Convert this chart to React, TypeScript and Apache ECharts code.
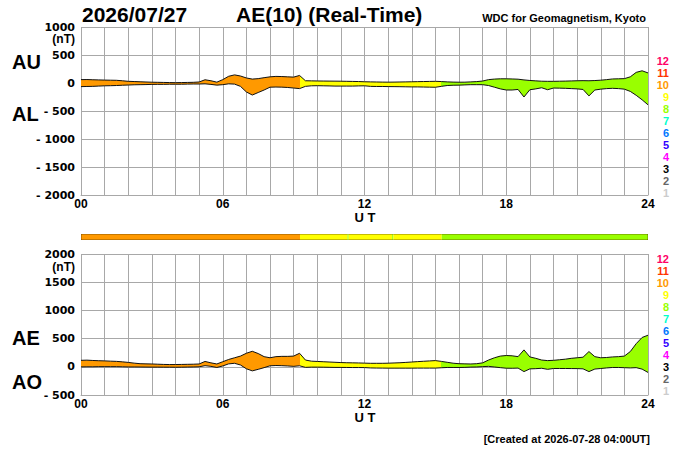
import React, { useEffect, useRef } from 'react';
import * as echarts from 'echarts';

// ---- data (nT), sampled every 15 minutes from 00:00 to 24:00 UT ----
const STEP_H = 0.25;

const AU = [
  60, 62, 58, 55, 52, 50, 48, 40,
  30, 26, 22, 18, 14, 12, 10, 8,
  6, 8, 10, 12, 18, 58, 40, 15,
  60, 120, 145, 125, 90, 70, 78, 95,
  110, 118, 115, 110, 105, 135, 40, 38,
  36, 35, 34, 33, 32, 30, 28, 26,
  22, 20, 18, 16, 15, 16, 18, 20,
  22, 24, 26, 28, 30, 26, 20, 16,
  14, 15, 20, 25, 35, 60, 70, 75,
  75, 72, 68, 55, 45, 38, 32, 30,
  30, 32, 34, 37, 40, 42, 40, 44,
  50, 60, 72, 75, 78, 110, 190, 218,
  180,
];

const AL = [
  -65, -62, -60, -55, -50, -48, -45, -40,
  -36, -32, -30, -28, -25, -24, -24, -22,
  -22, -22, -20, -18, -18, -15, -25, -38,
  -30, -15, -20, -60, -160, -215, -170, -125,
  -75, -72, -74, -80, -90, -100, -60, -50,
  -48, -50, -52, -55, -55, -55, -55, -52,
  -50, -60, -62, -62, -64, -65, -66, -68,
  -70, -70, -72, -74, -76, -60, -45, -40,
  -38, -34, -30, -30, -30, -45, -75, -105,
  -125, -125, -115, -250, -120, -105, -85, -120,
  -90, -92, -95, -100, -105, -115, -230, -125,
  -110, -100, -95, -100, -110, -150, -220, -300,
  -390,
];

const AE = [
  115, 118, 112, 108, 105, 100, 96, 88,
  78, 65, 55, 52, 50, 46, 42, 40,
  40, 42, 44, 46, 50, 95, 70, 50,
  90, 130, 160, 190, 240, 275, 235, 180,
  160, 180, 185, 185, 190, 240, 120, 100,
  95, 90, 85, 80, 75, 72, 70, 68,
  65, 62, 62, 62, 64, 68, 72, 78,
  85, 92, 98, 104, 110, 96, 80, 64,
  55, 52, 50, 55, 70, 120, 160, 190,
  200, 195, 180, 300, 175, 150, 120, 110,
  115, 125, 135, 150, 160, 170, 270, 180,
  160, 165, 175, 180, 190, 270, 410, 520,
  560,
];

const AO = [
  -2, 0, 0, 2, 2, 2, 2, 0,
  -3, -3, -4, -5, -6, -6, -7, -7,
  -8, -7, -5, -3, 0, 20, 8, -12,
  15, 52, 62, 32, -35, -72, -45, -15,
  18, 23, 20, 15, 8, 18, -10, -6,
  -6, -7, -9, -11, -11, -12, -13, -13,
  -14, -20, -22, -23, -24, -24, -24, -24,
  -24, -23, -23, -23, -23, -17, -12, -12,
  -12, -10, -5, -3, 3, 8, -3, -15,
  -25, -26, -23, -85, -37, -33, -26, -45,
  -30, -30, -30, -31, -32, -36, -85, -40,
  -30, -20, -12, -12, -16, -20, -15, -41,
  -100,
];

const TIMES = AU.map((_, i) => (i * STEP_H).toFixed(2));

// number of contributing stations through the day
const SEG_START = [0, 9.27, 11.28, 11.33, 13.17, 13.22, 15.27];
const SEG_END = [9.27, 11.28, 11.33, 13.17, 13.22, 15.27, 24];
const SEG_STATIONS = [10, 9, 8, 9, 8, 9, 8];

const STATION_LABELS = [12, 11, 10, 9, 8, 7, 6, 5, 4, 3, 2, 1];
const STATION_COLORS = [
  '#FF0066', '#FF3300', '#FF9900', '#FFFF00', '#99FF00', '#00FFCC',
  '#0077FF', '#3300FF', '#FF00FF', '#000000', '#666666', '#CCCCCC',
];

const HOUR_LABELS = ['00', '06', '12', '18', '24'];

const FONT = '"Liberation Sans", Arial, Helvetica, sans-serif';
const GRID_COLOR = '#a8a8a8';

function stationColor(n: number): string {
  const i = STATION_LABELS.indexOf(n);
  return i >= 0 ? STATION_COLORS[i] : '#999';
}

function txt(x: number, y: number, text: string, size: number, align: string, fill = '#000', family = FONT) {
  return {
    type: 'text',
    x,
    y,
    silent: true,
    style: {
      text,
      fill,
      font: `bold ${size}px ${family}`,
      lineHeight: size,
      align,
      verticalAlign: 'middle',
      textAlign: align,
      textVerticalAlign: 'middle',
    },
  };
}

function buildOption() {
  const pieces = SEG_START.map((s, i) => ({
    gte: s / STEP_H,
    lt: SEG_END[i] / STEP_H + (i === SEG_START.length - 1 ? 1 : 0),
    color: stationColor(SEG_STATIONS[i]),
  })).filter((p) => Math.round(p.gte) !== Math.round(p.lt));

  const catX = (gridIndex: number) => ({
    type: 'category',
    gridIndex,
    data: TIMES,
    boundaryGap: false,
    axisTick: { show: false, interval: 3 },
    axisLine: { show: true, onZero: false, lineStyle: { color: GRID_COLOR, width: 1 } },
    splitLine: {
      show: true,
      interval: 3,
      lineStyle: { color: GRID_COLOR, width: 1 },
    },
    axisLabel: {
      interval: 23,
      formatter: (v: string) => HOUR_LABELS[Math.round(parseFloat(v) / 6)] ?? '',
      color: '#000',
      fontFamily: FONT,
      fontWeight: 'bold',
      fontSize: 12,
      lineHeight: 12,
      margin: 3,
      showMinLabel: true,
      showMaxLabel: true,
    },
  });

  const valY = (gridIndex: number, min: number, max: number) => ({
    type: 'value',
    gridIndex,
    min,
    max,
    interval: 500,
    axisLine: { show: false },
    axisTick: { show: false },
    splitLine: { show: true, lineStyle: { color: GRID_COLOR, width: 1 } },
    axisLabel: {
      formatter: (v: number) => (v < 0 ? '- ' + String(-v) : String(v)),
      color: '#000',
      fontFamily: '"DejaVu Sans", sans-serif',
      fontWeight: 'bold',
      fontSize: 11,
      margin: 6,
      showMinLabel: true,
      showMaxLabel: true,
    },
  });

  const lineBase = {
    type: 'line',
    symbol: 'none',
    showSymbol: false,
    silent: true,
    stackStrategy: 'all',
    lineStyle: { color: '#111', width: 1 },
  };

  const graphic: any[] = [
    txt(82, 14.5, '2026/07/27', 21, 'left'),
    txt(236, 14.5, 'AE(10) (Real-Time)', 21, 'left'),
    txt(646, 18, 'WDC for Geomagnetism, Kyoto', 11, 'right'),
    txt(75, 39, '(nT)', 12, 'right'),
    txt(75, 267, '(nT)', 12, 'right'),
    txt(12, 62, 'AU', 20, 'left'),
    txt(12, 114, 'AL', 20, 'left'),
    txt(12, 338, 'AE', 20, 'left'),
    txt(12, 381.5, 'AO', 20, 'left'),
    txt(365, 217.5, 'U T', 13, 'center'),
    txt(365, 417.5, 'U T', 13, 'center'),
    txt(650, 439, '[Created at 2026-07-28 04:00UT]', 11, 'right'),
  ];
  STATION_LABELS.forEach((n, k) => {
    graphic.push(txt(669, 61 + 12 * k, String(n), 11, 'right', STATION_COLORS[k]));
    graphic.push(txt(669, 259 + 12 * k, String(n), 11, 'right', STATION_COLORS[k]));
  });

  const segData = SEG_START.map((s, i) => [s, SEG_END[i], SEG_STATIONS[i]]);

  return {
    animation: false,
    backgroundColor: '#fff',
    grid: [
      { left: 81, top: 27, width: 567, height: 168, outerBoundsMode: 'none' },
      { left: 81, top: 234, width: 567, height: 6, outerBoundsMode: 'none' },
      { left: 81, top: 254, width: 567, height: 141, outerBoundsMode: 'none' },
    ],
    xAxis: [
      catX(0),
      { type: 'value', gridIndex: 1, min: 0, max: 24, show: false },
      catX(2),
    ],
    yAxis: [
      valY(0, -2000, 1000),
      { type: 'value', gridIndex: 1, min: 0, max: 1, show: false },
      valY(2, -500, 2000),
    ],
    visualMap: [
      {
        type: 'piecewise',
        show: false,
        dimension: 0,
        seriesIndex: [1, 3],
        pieces,
      },
    ],
    series: [
      { ...lineBase, name: 'AL', xAxisIndex: 0, yAxisIndex: 0, stack: 'aual', data: AL, z: 4 },
      {
        ...lineBase,
        name: 'AU',
        xAxisIndex: 0,
        yAxisIndex: 0,
        stack: 'aual',
        data: AU.map((v, i) => v - AL[i]),
        areaStyle: { opacity: 1 },
        z: 3,
      },
      { ...lineBase, name: 'AO', xAxisIndex: 2, yAxisIndex: 2, stack: 'aeao', data: AO, z: 4 },
      {
        ...lineBase,
        name: 'AE',
        xAxisIndex: 2,
        yAxisIndex: 2,
        stack: 'aeao',
        data: AE.map((v, i) => v - AO[i]),
        areaStyle: { opacity: 1 },
        z: 3,
      },
      {
        type: 'custom',
        name: 'stations',
        xAxisIndex: 1,
        yAxisIndex: 1,
        silent: true,
        data: segData,
        renderItem: (params: any, api: any) => {
          const p0 = api.coord([api.value(0), 0]);
          const p1 = api.coord([api.value(1), 1]);
          const w = p1[0] - p0[0];
          const h = p0[1] - p1[1];
          const fill = stationColor(api.value(2));
          const edge = 'rgba(90,60,0,0.35)';
          const children: any[] = [
            { type: 'rect', shape: { x: p0[0], y: p1[1], width: w, height: h }, style: { fill } },
            { type: 'line', shape: { x1: p0[0], y1: p1[1] + 0.5, x2: p1[0], y2: p1[1] + 0.5 }, style: { stroke: edge, lineWidth: 1 } },
            { type: 'line', shape: { x1: p0[0], y1: p0[1] - 0.5, x2: p1[0], y2: p0[1] - 0.5 }, style: { stroke: edge, lineWidth: 1 } },
          ];
          if (params.dataIndex === 0) {
            children.push({ type: 'line', shape: { x1: p0[0] + 0.5, y1: p1[1], x2: p0[0] + 0.5, y2: p0[1] }, style: { stroke: edge, lineWidth: 1 } });
          }
          if (params.dataIndex === SEG_START.length - 1) {
            children.push({ type: 'line', shape: { x1: p1[0] - 0.5, y1: p1[1], x2: p1[0] - 0.5, y2: p0[1] }, style: { stroke: edge, lineWidth: 1 } });
          }
          return { type: 'group', children };
        },
      },
    ],
    graphic,
  };
}

export default function App() {
  const ref = useRef<HTMLDivElement>(null);
  useEffect(() => {
    if (!ref.current) return;
    const chart = echarts.init(ref.current, null, { renderer: 'svg' });
    chart.setOption(buildOption() as any);
    return () => chart.dispose();
  }, []);
  return (
    <div
      ref={ref}
      style={{ position: 'fixed', left: 0, top: 0, width: 700, height: 450, background: '#fff' }}
    />
  );
}
